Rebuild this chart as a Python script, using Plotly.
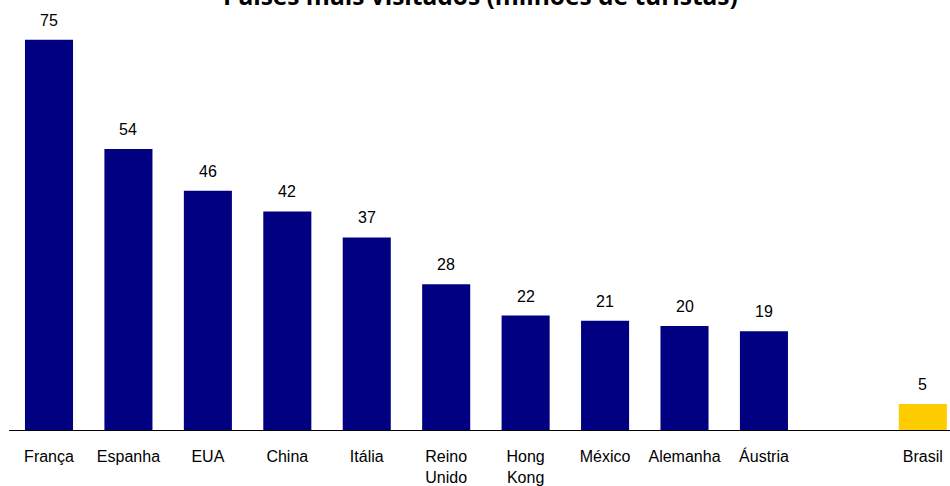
import plotly.graph_objects as go

countries = ["França", "Espanha", "EUA", "China", "Itália", "Reino Unido",
             "Hong Kong", "México", "Alemanha", "Áustria", "Brasil"]
tourists = [75, 54, 46, 42, 37, 28, 22, 21, 20, 19, 5]
tick_labels = ["França", "Espanha", "EUA", "China", "Itália", "Reino<br>Unido",
               "Hong<br>Kong", "México", "Alemanha", "Áustria", "Brasil"]
spacer = " "
category_order = countries[:10] + [spacer] + countries[10:]

navy = "#000080"
gold = "#FFCC00"
colors = [gold if c == "Brasil" else navy for c in countries]

fig = go.Figure()
fig.add_trace(go.Bar(x=countries, y=tourists, marker=dict(color=colors, line=dict(width=0)),
                     hoverinfo="x+y"))

annotations = []
for c, v in zip(countries, tourists):
    annotations.append(dict(x=c, y=v, xref="x", yref="y", text=str(v), showarrow=False,
                            yanchor="bottom", yshift=9,
                            font=dict(family="Liberation Sans, Arial", size=16, color="#000000")))
annotations.append(dict(x=0.501, y=1, xref="paper", yref="paper", yanchor="middle",
                        yshift=25, showarrow=False,
                        text="<b>Países mais visitados (milhões de turistas)</b>",
                        font=dict(family="Open Sans", size=24.5, color="#000000")))

fig.update_layout(
    width=950, height=486,
    margin=dict(l=9, r=0, t=20, b=52),
    plot_bgcolor="white", paper_bgcolor="white",
    bargap=0.395,
    showlegend=False,
    annotations=annotations,
    xaxis=dict(type="category", categoryorder="array", categoryarray=category_order,
               tickvals=countries, ticktext=tick_labels,
               range=[-0.5035, 11.342], showline=True, linecolor="#000000", linewidth=1,
               showgrid=False, zeroline=False, ticks="outside", ticklen=12,
               tickcolor="rgba(0,0,0,0)",
               tickfont=dict(family="Liberation Sans, Arial", size=16, color="#000000")),
    yaxis=dict(range=[0, 78.8], visible=False, showgrid=False, zeroline=False),
)

fig.write_html("out.html", config={"displayModeBar": False},
               post_script="document.body.style.margin='0';document.body.style.overflow='hidden';")
